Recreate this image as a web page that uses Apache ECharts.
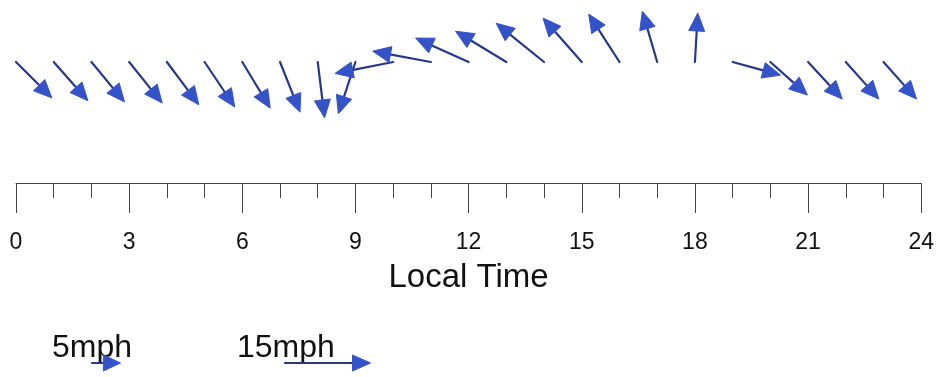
<!DOCTYPE html>
<html>
<head>
<meta charset="utf-8">
<script src="https://cdn.jsdelivr.net/npm/echarts@6/dist/echarts.min.js"></script>
<style>
  html, body { margin: 0; padding: 0; background: #ffffff; }
  #chart { width: 937px; height: 377px; }
</style>
</head>
<body>
<div id="chart"></div>
<script>
// Local time of each observation (hours)
const HOURS = [0, 1, 2, 3, 4, 5, 6, 7, 8, 9, 10, 11, 12, 13, 14, 15, 16, 17, 18, 19, 20, 21, 22, 23];
// Wind components in mph (u: toward east, v: toward north)
const U_MPH = [6.3, 6.0, 5.8, 5.8, 5.6, 5.3, 4.9, 3.5, 1.2, -3.0, -10.2, -10.2, -9.3, -8.9, -8.4, -6.8, -5.4, -2.6, 0.5, 8.4, 6.5, 6.0, 5.8, 5.8];
const V_MPH = [-6.3, -6.8, -7.0, -7.2, -7.5, -7.9, -8.1, -8.8, -9.8, -9.1, -2.0, 1.9, 4.2, 5.4, 6.8, 7.7, 8.4, 8.9, 8.6, -2.3, -5.8, -6.5, -6.5, -6.5];
// Axis
const X_MIN = 0, X_MAX = 24, X_INTERVAL = 3;
// Reference arrows
const LEGEND_SPEEDS = [5, 15];
const LEGEND_LABELS = ['5mph', '15mph'];

const PX_PER_MPH = 5.7;
const LINE_COLOR = '#26388a';
const HEAD_COLOR = '#3553c8';
const FONT = '"Liberation Sans", Arial, sans-serif';

function arrowShapes(x0, y0, x1, y1) {
  const dx = x1 - x0, dy = y1 - y0;
  const len = Math.sqrt(dx * dx + dy * dy) || 1;
  const ux = dx / len, uy = dy / len;
  const headLen = Math.min(18, len * 0.6), halfW = 8;
  const bx = x1 - ux * headLen, by = y1 - uy * headLen;
  return [
    { type: 'line', shape: { x1: x0, y1: y0, x2: bx + ux * 2, y2: by + uy * 2 },
      style: { stroke: LINE_COLOR, lineWidth: 2.2, lineCap: 'round' } },
    { type: 'polygon', shape: { points: [[x1, y1], [bx - uy * halfW, by + ux * halfW], [bx + uy * halfW, by - ux * halfW]] },
      style: { fill: HEAD_COLOR, stroke: HEAD_COLOR, lineWidth: 1 } }
  ];
}

const data = HOURS.map((h, i) => [h, U_MPH[i], V_MPH[i]]);

const chart = echarts.init(document.getElementById('chart'), null, { renderer: 'canvas' });

// legend graphics
const legendX = [52, 237];
const legendTail = [92, 285];
const graphics = [];
LEGEND_SPEEDS.forEach((s, i) => {
  graphics.push({
    type: 'text', left: legendX[i], top: 332, silent: true,
    style: { text: LEGEND_LABELS[i], font: '32px ' + FONT, fill: '#111' }
  });
  const x0 = legendTail[i], y0 = 363;
  arrowShapes(x0, y0, x0 + s * PX_PER_MPH, y0).forEach(g => { g.silent = true; graphics.push(g); });
});

chart.setOption({
  animation: false,
  backgroundColor: '#ffffff',
  grid: { left: 16, right: 13, top: 62, bottom: 194, containLabel: false },
  xAxis: {
    type: 'value', min: X_MIN, max: X_MAX, interval: X_INTERVAL,
    name: 'Local Time', nameLocation: 'middle', nameGap: 78,
    nameTextStyle: { fontSize: 33, color: '#111', fontFamily: FONT },
    axisLine: { show: true, onZero: false, lineStyle: { color: '#444', width: 1 } },
    axisTick: { show: true, length: 30, lineStyle: { color: '#444', width: 1 } },
    minorTick: { show: true, splitNumber: 3, length: 15, lineStyle: { color: '#444', width: 1 } },
    splitLine: { show: false },
    minorSplitLine: { show: false },
    axisLabel: { fontSize: 23, color: '#111', margin: 48, fontFamily: FONT }
  },
  yAxis: { type: 'value', min: 0, max: 1, show: false },
  graphic: graphics,
  series: [{
    type: 'custom',
    silent: true,
    clip: false,
    data: data,
    renderItem: function (params, api) {
      const tail = api.coord([api.value(0), 1]);
      const x1 = tail[0] + api.value(1) * PX_PER_MPH;
      const y1 = tail[1] - api.value(2) * PX_PER_MPH;
      return { type: 'group', children: arrowShapes(tail[0], tail[1], x1, y1) };
    }
  }]
});
</script>
</body>
</html>
